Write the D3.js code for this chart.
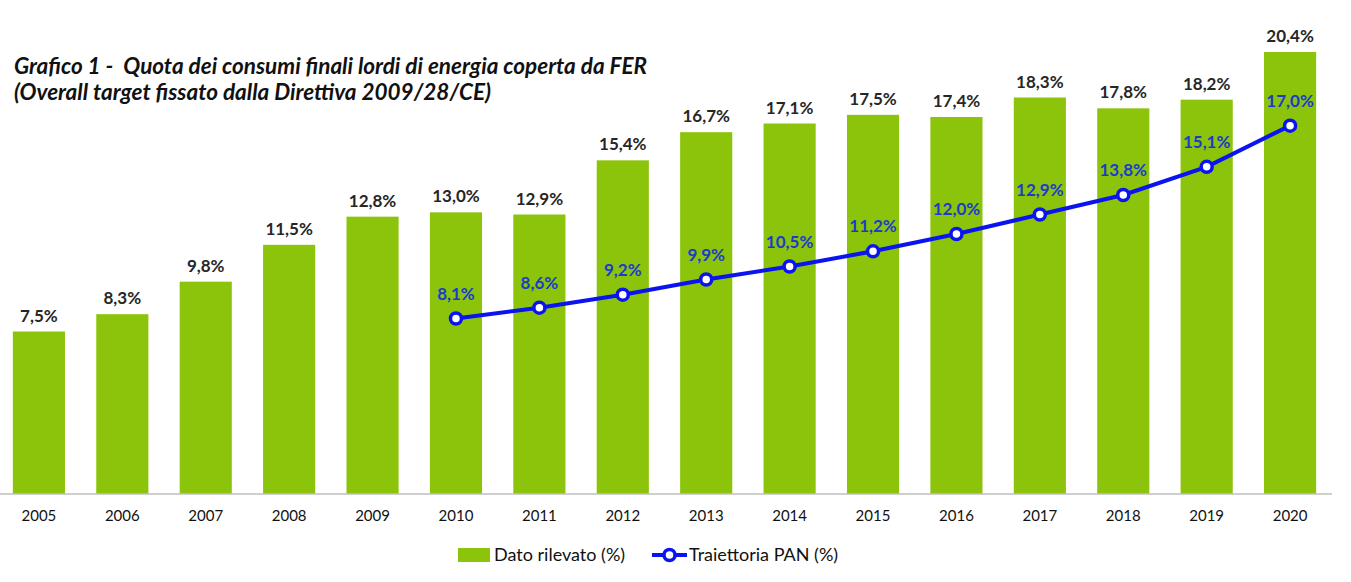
<!DOCTYPE html>
<meta charset="utf-8">
<style>
    body { margin: 0; background: #fff; }
    svg text { font-family: Lato, "Open Sans", sans-serif; }
    .title { font-size: 22.5px; font-weight: bold; font-style: italic; fill: #111; white-space: pre; }
    .barlab { font-size: 17px; font-weight: bold; fill: #262626; }
    .linelab { font-size: 17px; font-weight: bold; fill: #1a3cc8; }
    .tick text { font-size: 15px; fill: #111; }
    .legend text { font-size: 18px; fill: #111; }
</style>
<svg width="1351" height="582"></svg>
<script src="https://d3js.org/d3.v7.min.js"></script>
<script>
    const years = ["2005","2006","2007","2008","2009","2010","2011","2012","2013","2014","2015","2016","2017","2018","2019","2020"];
    const rilevato = [7.5, 8.3, 9.8, 11.5, 12.8, 13.0, 12.9, 15.4, 16.7, 17.1, 17.5, 17.4, 18.3, 17.8, 18.2, 20.4];
    const panYears = ["2010","2011","2012","2013","2014","2015","2016","2017","2018","2019","2020"];
    const pan = [8.1, 8.6, 9.2, 9.9, 10.5, 11.2, 12.0, 12.9, 13.8, 15.1, 17.0];

    const green = "#8cc40c", blue = "#0a14f0";
    const fmt = v => v.toFixed(1).replace(".", ",") + "%";

    let svg = d3.select("svg");

    //scales
    let x = d3.scaleBand().domain(years).range([-3, 1332]).paddingInner(0.375).paddingOuter(0.19);
    let y = d3.scaleLinear().domain([0, 20.4]).range([494, 52]);

    //title
    svg.append("text").attr("class", "title").attr("x", 14).attr("y", 74)
        .text("Grafico 1 -  Quota dei consumi finali lordi di energia coperta da FER");
    svg.append("text").attr("class", "title").attr("x", 14).attr("y", 100)
        .text("(Overall target fissato dalla Direttiva 2009/28/CE)");

    //bars
    svg.append("g").selectAll("rect")
        .data(years)
        .enter().append("rect")
        .attr("x", d => x(d))
        .attr("width", x.bandwidth())
        .attr("y", (d, i) => y(rilevato[i]))
        .attr("height", (d, i) => y(0) - y(rilevato[i]))
        .attr("fill", green);

    svg.append("g").selectAll("text")
        .data(years)
        .enter().append("text")
        .attr("class", "barlab")
        .attr("text-anchor", "middle")
        .attr("x", d => x(d) + x.bandwidth() / 2)
        .attr("y", (d, i) => y(rilevato[i]) - 10)
        .text((d, i) => fmt(rilevato[i]));

    //x axis
    let axis = svg.append("g").attr("transform", "translate(0," + y(0) + ")")
        .call(d3.axisBottom(x).tickSize(0).tickPadding(16));
    axis.select(".domain").attr("stroke", "#bfbfbf").attr("stroke-width", 1.5).attr("d", "M0,0H1332");

    //PAN line
    let cx = d => x(d) + x.bandwidth() / 2;
    let line = d3.line().x((d, i) => cx(panYears[i])).y(d => y(d));
    svg.append("path").datum(pan)
        .attr("d", line)
        .attr("fill", "none")
        .attr("stroke", blue)
        .attr("stroke-width", 4);

    svg.append("g").selectAll("circle")
        .data(pan)
        .enter().append("circle")
        .attr("cx", (d, i) => cx(panYears[i]))
        .attr("cy", d => y(d))
        .attr("r", 5.5)
        .attr("fill", "#fff")
        .attr("stroke", blue)
        .attr("stroke-width", 3.5);

    svg.append("g").selectAll("text")
        .data(pan)
        .enter().append("text")
        .attr("class", "linelab")
        .attr("text-anchor", "middle")
        .attr("x", (d, i) => cx(panYears[i]))
        .attr("y", d => y(d) - 19)
        .text(d => fmt(d));

    //legend
    let lg = svg.append("g").attr("class", "legend");
    lg.append("rect").attr("x", 458).attr("y", 548).attr("width", 32).attr("height", 14).attr("fill", green);
    lg.append("text").attr("x", 494).attr("y", 561).text("Dato rilevato (%)");
    lg.append("line").attr("x1", 652).attr("x2", 687).attr("y1", 555).attr("y2", 555)
        .attr("stroke", blue).attr("stroke-width", 4);
    lg.append("circle").attr("cx", 669.5).attr("cy", 555).attr("r", 5.5)
        .attr("fill", "#fff").attr("stroke", blue).attr("stroke-width", 3.5);
    lg.append("text").attr("x", 689).attr("y", 561).text("Traiettoria PAN (%)");
</script>
<body>
</body>
